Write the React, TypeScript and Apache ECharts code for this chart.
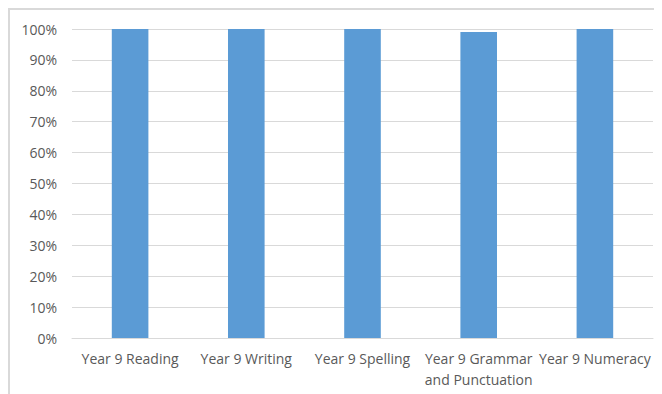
import React, { useEffect, useRef } from "react";
import * as echarts from "echarts";

const categories = [
  "Year 9 Reading",
  "Year 9 Writing",
  "Year 9 Spelling",
  "Year 9 Grammar\nand Punctuation",
  "Year 9 Numeracy",
];
const values = [1.0, 1.0, 1.0, 0.99, 1.0];
const yTicks = { min: 0, max: 1, interval: 0.1 };

export default function App() {
  const ref = useRef<HTMLDivElement>(null);
  useEffect(() => {
    if (!ref.current) return;
    const chart = echarts.init(ref.current, null, { renderer: "svg" });
    const font = "'Open Sans', 'Noto Sans', sans-serif";
    chart.setOption({
      animation: false,
      backgroundColor: "#ffffff",
      grid: { left: 64, right: 9, top: 21, bottom: 56, containLabel: false },
      graphic: [
        { type: "rect", shape: { x: 0, y: 0, width: 660, height: 2 }, style: { fill: "#d9d9d9" }, silent: true },
        { type: "rect", shape: { x: 0, y: 0, width: 2, height: 400 }, style: { fill: "#d9d9d9" }, silent: true },
      ],
      xAxis: {
        type: "category",
        data: categories,
        axisLine: { show: true, lineStyle: { color: "#d9d9d9", width: 1 } },
        axisTick: { show: false },
        axisLabel: {
          color: "#595959",
          fontFamily: font,
          fontSize: 14,
          lineHeight: 21,
          margin: 10,
          interval: 0,
        },
      },
      yAxis: {
        type: "value",
        min: yTicks.min,
        max: yTicks.max,
        interval: yTicks.interval,
        axisLine: { show: false },
        axisTick: { show: false },
        splitLine: { lineStyle: { color: "#d9d9d9", width: 1 } },
        axisLabel: {
          color: "#595959",
          fontFamily: font,
          fontSize: 14,
          margin: 15,
          formatter: (v: number) => Math.round(v * 100) + "%",
        },
      },
      series: [
        {
          type: "bar",
          data: values,
          barWidth: "31.5%",
          itemStyle: { color: "#5b9bd5" },
        },
      ],
    });
    return () => chart.dispose();
  }, []);
  return <div ref={ref} style={{ width: 654, height: 386 }} />;
}
